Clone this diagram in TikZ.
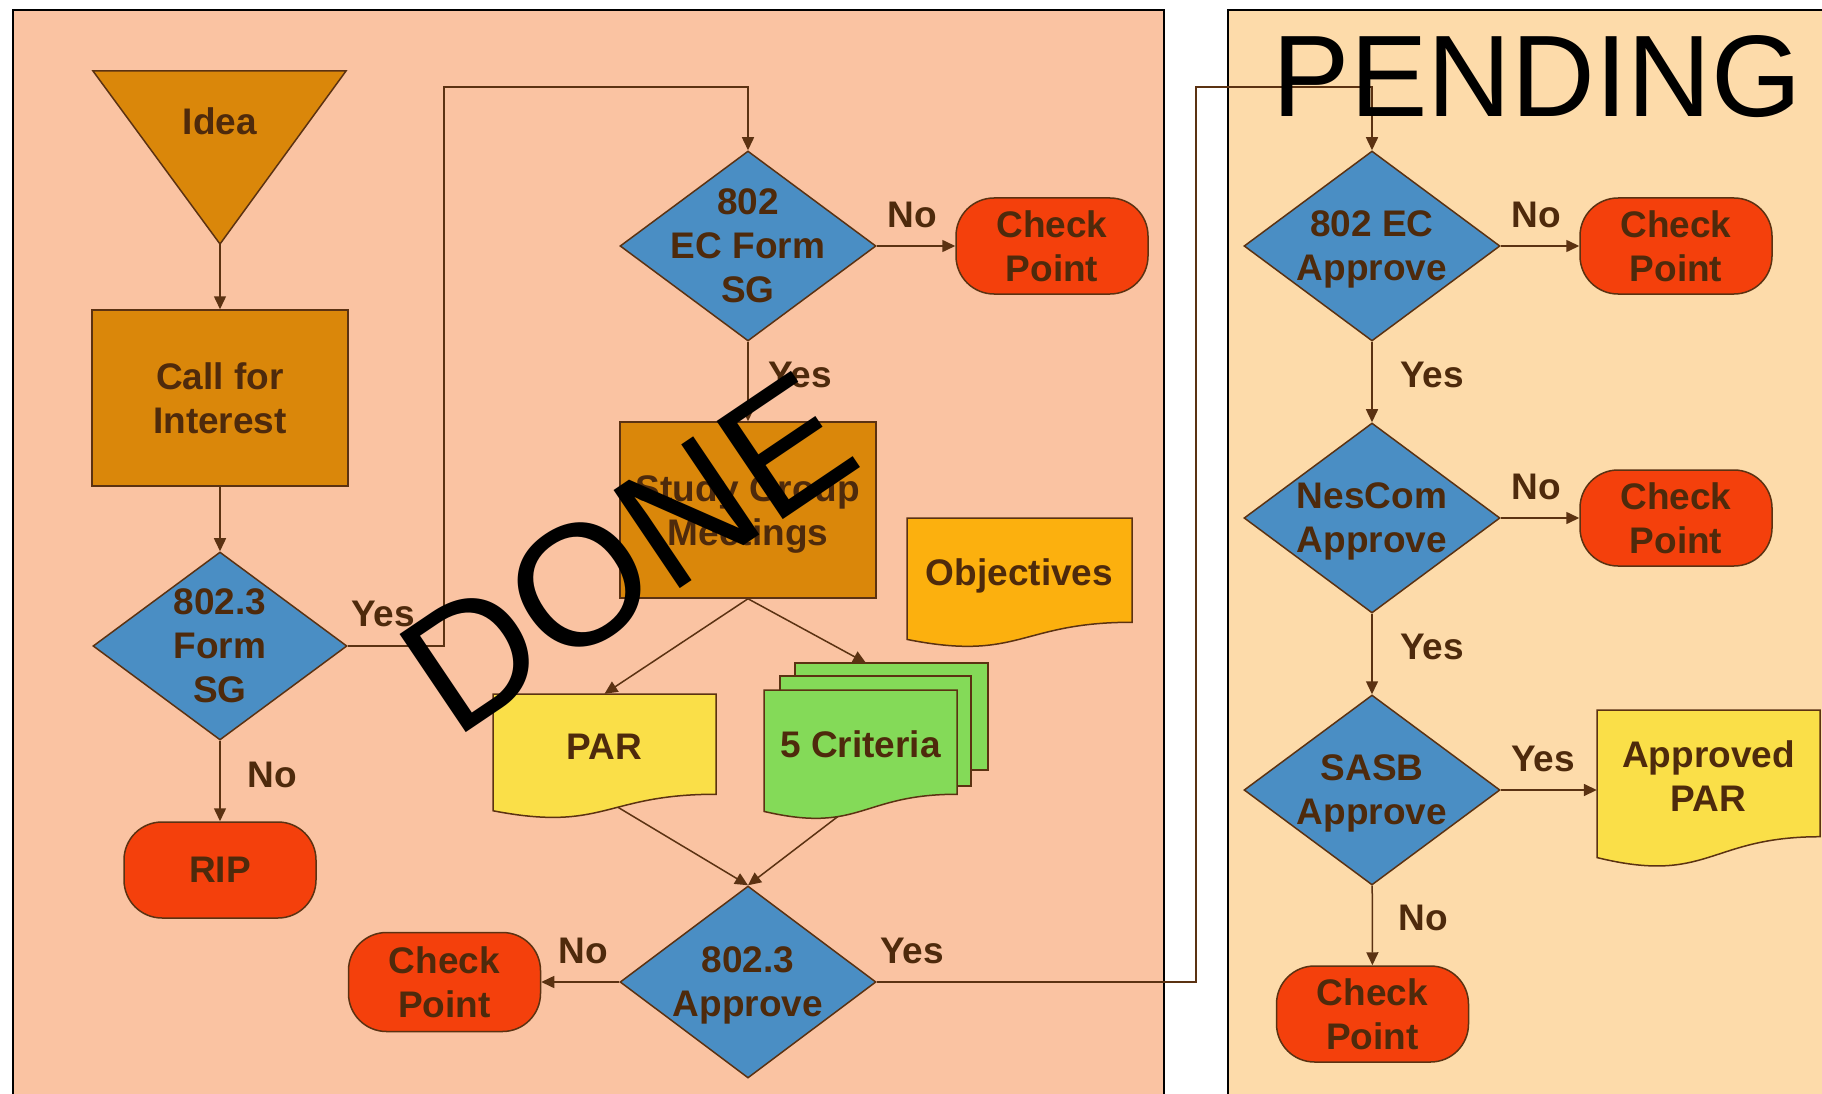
\documentclass[tikz,border=0pt]{standalone}
\usepackage{fontspec}
\setmainfont{Liberation Sans}
\usepackage{xcolor}
\usepackage{tikz}
\usetikzlibrary{shapes.geometric, arrows.meta}
\pgfdeclarelayer{ft}
\pgfdeclarelayer{bg}
\pgfsetlayers{bg,main,ft}

\definecolor{panelL}{HTML}{FAC3A2}
\definecolor{panelR}{HTML}{FDDBAA}
\definecolor{amber}{HTML}{DA870A}
\definecolor{steel}{HTML}{4A8EC4}
\definecolor{redbox}{HTML}{F4400C}
\definecolor{objcol}{HTML}{FCB00E}
\definecolor{parcol}{HTML}{FADF48}
\definecolor{critcol}{HTML}{84DA58}
\definecolor{ink}{HTML}{4E2A0C}
\definecolor{edge}{HTML}{5B3212}

\newcommand{\boxfont}{\fontsize{37}{44}\selectfont\bfseries}
\newcommand{\docshape}[5]{%
  \filldraw[fill=#5, draw=edge, line width=1.5pt] (#1,#2) -- ({#1+#3},#2) -- ({#1+#3},{#2+0.802*#4})
    .. controls ({#1+0.5*#3},{#2+0.802*#4}) and ({#1+0.5*#3},{#2+1.107*#4}) .. (#1,{#2+0.934*#4}) -- cycle;}

\begin{document}
\begin{tikzpicture}[x=1pt, y=-1pt, >={Triangle[length=13pt, width=12pt]},
    every node/.style={inner sep=0pt, text=ink, font=\boxfont, align=center, text depth=0pt},
    flow/.style={draw=edge, line width=1.5pt, ->},
    procbox/.style={draw=edge, line width=1.5pt, fill=amber, minimum width=256pt, minimum height=176pt},
    decide/.style={diamond, draw=edge, line width=1.5pt, fill=steel, minimum width=256pt, minimum height=190pt, label={center:{#1}}},
    term/.style={draw=edge, line width=1.5pt, fill=redbox, rounded corners=38pt, minimum width=192pt, minimum height=96pt},
    sheet/.style={draw=edge, line width=1.5pt, fill=critcol}]
	\useasboundingbox (0,0) rectangle (1822,1094);

	\begin{pgfonlayer}{bg}
		\fill[white] (0,0) rectangle (1822,1094);
		\fill[panelL] (13,10) rectangle (1164,1094);
		\fill[panelR] (1228,10) rectangle (1822,1094);
		\draw[line width=2pt] (13,1094) -- (13,10) -- (1164,10) -- (1164,1094);
		\draw[line width=2pt] (1228,1094) -- (1228,10) -- (1822,10);
	\end{pgfonlayer}

	\filldraw[draw=edge, line width=1.5pt, fill=amber] (93,71) -- (346,71) -- (220,244) -- cycle;
	\node (idea) at (220,121) {Idea};
	\coordinate (ideatip) at (220,244);

	\node[procbox] (call) at (220,398) {Call for\\Interest};
	\node[decide={802.3\\Form\\SG}, minimum width=254pt, minimum height=188pt] (formsg) at (220,646) {};
	\node[term] (rip) at (220,870) {RIP};

	\node[decide={802\\EC Form\\SG}] (ecform) at (748,246) {};
	\node[term] (chk1) at (1052,246) {Check\\Point};
	\node[procbox] (study) at (748,510) {Study Group\\Meetings};

	\docshape{907}{518}{225}{130}{objcol}
	\node[minimum width=225pt, minimum height=109pt] (obj) at (1019.5,572.5) {Objectives};

	\docshape{493}{694}{223}{125}{parcol}
	\node[minimum width=223pt, minimum height=105pt] (par) at (604.5,746.5) {PAR};

	\node[sheet, minimum width=193pt, minimum height=107pt] (crit3) at (891.5,716.5) {};
	\node[sheet, minimum width=191pt, minimum height=110pt] (crit2) at (875.5,731) {};
	\docshape{764}{690}{193}{130}{critcol}
	\node[minimum width=193pt, minimum height=109pt] (crit) at (860.5,744.5) {5 Criteria};
	\coordinate (critin) at (866,663);

	\node[decide={802.3\\Approve}, minimum height=192pt] (approve) at (748,982) {};
	\node[term, minimum height=99pt] (chk2) at (444.5,982) {Check\\Point};

	\node[decide={802 EC\\Approve}] (ecappr) at (1372,246) {};
	\node[term] (chk3) at (1676,246) {Check\\Point};
	\node[decide={NesCom\\Approve}] (nescom) at (1372,518) {};
	\node[term] (chk4) at (1676,518) {Check\\Point};
	\node[decide={SASB\\Approve}] (sasb) at (1372,790) {};
	\docshape{1597}{710}{223}{158}{parcol}
	\node[minimum width=223pt, minimum height=133pt] (apar) at (1708.5,776.5) {Approved\\PAR};
	\node[term] (chk5) at (1372.5,1014) {Check\\Point};

	\coordinate (jogA) at (444,87);
	\coordinate (jogB) at (1196,87);

	\begin{pgfonlayer}{bg}
		\draw[flow] (ideatip) -- (call);
		\draw[flow] (call) -- (formsg);
		\draw[flow] (formsg) -- (rip);
		\draw[flow] (formsg.east) -| (jogA) -| (ecform.north);
		\draw[flow] (ecform) -- (chk1);
		\draw[flow] (ecform) -- (study);
		\draw[flow] (study.south) -- (par.north);
		\draw[flow] (study.south) -- (critin);
		\draw[flow] (par.south) -- (approve.north);
		\draw[flow] (crit.south) -- (approve.north);
		\draw[flow] (approve) -- (chk2);
		\draw[flow] (approve.east) -| (jogB) -| (ecappr.north);
		\draw[flow] (ecappr) -- (chk3);
		\draw[flow] (ecappr) -- (nescom);
		\draw[flow] (nescom) -- (chk4);
		\draw[flow] (nescom) -- (sasb);
		\draw[flow] (sasb.east) -- (sasb.east -| apar.west);
		\draw[flow] (sasb) -- (chk5);
	\end{pgfonlayer}

	\node (lno1) at (272,775) {No};
	\node (lyes1) at (383,614) {Yes};
	\node (lno2) at (912,215) {No};
	\node (lyes2) at (800,375) {Yes};
	\node (lno3) at (583,951) {No};
	\node (lyes3) at (912,951) {Yes};
	\node (lno4) at (1536,215) {No};
	\node (lyes4) at (1432,375) {Yes};
	\node (lno5) at (1536,487) {No};
	\node (lyes5) at (1432,647) {Yes};
	\node (lyes6) at (1543,759) {Yes};
	\node (lno6) at (1423,918) {No};

	\begin{pgfonlayer}{ft}
		\node[text=black, font=\fontsize{172}{172}\selectfont, rotate=34] (done) at (627,552) {DONE};
		\node[text=black, font=\fontsize{116}{116}\selectfont] (pending) at (1537,76) {PENDING};
	\end{pgfonlayer}
\end{tikzpicture}
\end{document}
